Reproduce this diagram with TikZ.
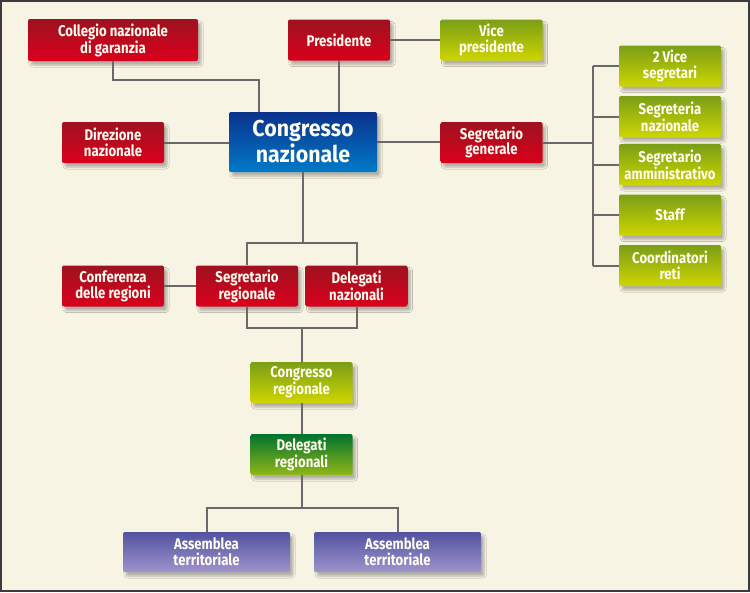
\documentclass[tikz,border=0pt]{standalone}
\usepackage{fontspec}
\setmainfont{Fira Sans}
\newfontfamily\condfont{Fira Sans}[FakeStretch=0.85]
\newfontfamily\bigfont{Fira Sans}[FakeStretch=0.93]
\usetikzlibrary{shadows.blur}
\definecolor{bg}{RGB}{248,244,228}
\definecolor{frame}{RGB}{60,60,60}
\definecolor{wire}{RGB}{105,105,105}
\definecolor{redT}{RGB}{158,18,32}
\definecolor{redB}{RGB}{218,0,28}
\definecolor{bluT}{RGB}{10,50,140}
\definecolor{bluB}{RGB}{0,122,200}
\definecolor{limT}{RGB}{122,158,22}
\definecolor{limB}{RGB}{206,213,0}
\definecolor{grnT}{RGB}{0,115,45}
\definecolor{grnB}{RGB}{145,182,25}
\definecolor{purT}{RGB}{82,82,160}
\definecolor{purB}{RGB}{158,148,204}
\definecolor{txt}{RGB}{255,252,240}
\tikzset{
  box/.style={rounded corners=2pt, inner sep=0pt, align=center, text=txt,
    font=\condfont\bfseries\fontsize{15.5}{15.8}\selectfont,
    blur shadow={shadow xshift=3pt, shadow yshift=-4pt, shadow opacity=28, shadow blur steps=6, shadow blur extra rounding=2pt}},
  redbox/.style={box, top color=redT, bottom color=redB},
  blubox/.style={box, top color=bluT, bottom color=bluB, font=\bigfont\bfseries\fontsize{23}{26}\selectfont},
  limbox/.style={box, top color=limT, bottom color=limB},
  grnbox/.style={box, top color=grnT, bottom color=grnB},
  purbox/.style={box, top color=purT, bottom color=purB},
  wide/.style={minimum width=102pt, minimum height=41pt},
  wire/.style={draw=wire, line width=2pt}
}
\begin{document}
\begin{tikzpicture}[x=1pt,y=-1pt]
\fill[bg] (0,0) rectangle (750,592);
\useasboundingbox (0,0) rectangle (750,592);
% nodes
\node[redbox, minimum width=170pt, minimum height=42pt] (coll) at (113,40) {Collegio nazionale\\di garanzia};
\node[redbox, wide] (pres) at (339,40) {Presidente};
\node[limbox, wide] (vice) at (491.5,40) {Vice\\presidente};
\node[blubox, minimum width=148pt, minimum height=60pt] (cn) at (303,142) {Congresso\\nazionale};
\node[redbox, wide] (dir) at (113,142.5) {Direzione\\nazionale};
\node[redbox, wide] (sg) at (491.5,142.5) {Segretario\\generale};
\node[limbox, wide] (v2) at (670,66) {2 Vice\\segretari};
\node[limbox, wide] (sn) at (670,116.5) {Segreteria\\nazionale};
\node[limbox, wide] (sa) at (670,164.5) {Segretario\\amministrativo};
\node[limbox, wide] (st) at (670,215) {Staff};
\node[limbox, wide] (co) at (670,265.5) {Coordinatori\\reti};
\node[redbox, wide] (conf) at (113,286) {Conferenza\\delle regioni};
\node[redbox, wide] (sr) at (247,286) {Segretario\\regionale};
\node[redbox, wide] (dn) at (356.5,286) {Delegati\\nazionali};
\node[limbox, wide] (crg) at (301.5,382.5) {Congresso\\regionale};
\node[grnbox, wide] (dr) at (301.5,454.5) {Delegati\\regionali};
\node[purbox, minimum width=167pt, minimum height=40pt] (a1) at (206.5,552) {Assemblea\\territoriale};
\node[purbox, minimum width=167pt, minimum height=40pt] (a2) at (397.5,552) {Assemblea\\territoriale};
% coordinates
\coordinate (bx) at (593,0);
\coordinate (topbar) at (0,243);
\coordinate (botbar) at (0,328);
\coordinate (abar) at (0,508);
% connectors
\draw[wire] (coll.south) -- ++(0,19) -| ([xshift=-44pt]cn.north);
\draw[wire] (pres.south) -- (pres.south |- cn.north);
\draw[wire] (pres.east) -- (vice.west);
\draw[wire] (dir.east) -- (dir.east -| cn.west);
\draw[wire] (cn.east) -- (cn.east -| sg.west);
\draw[wire] (sg.east) -- (sg.east -| bx);
\draw[wire] (v2.west -| bx) -- (co.west -| bx);
\draw[wire] (v2.west) -- (v2.west -| bx);
\draw[wire] (sn.west) -- (sn.west -| bx);
\draw[wire] (sa.west) -- (sa.west -| bx);
\draw[wire] (st.west) -- (st.west -| bx);
\draw[wire] (co.west) -- (co.west -| bx);
\draw[wire] (cn.south) -- (cn.south |- topbar);
\draw[wire] (sr.north) |- (topbar -| dn.north) -- (dn.north);
\draw[wire] (conf.east) -- (sr.west);
\draw[wire] (sr.south) |- (botbar -| dn.south) -- (dn.south);
\draw[wire] (botbar -| crg.north) -- (crg.north);
\draw[wire] (crg.south) -- (dr.north);
\draw[wire] (dr.south) -- (dr.south |- abar);
\draw[wire] (a1.north) |- (abar -| a2.north) -- (a2.north);
\draw[frame, line width=2pt] (1,1) rectangle (749,591);
\end{tikzpicture}
\end{document}
